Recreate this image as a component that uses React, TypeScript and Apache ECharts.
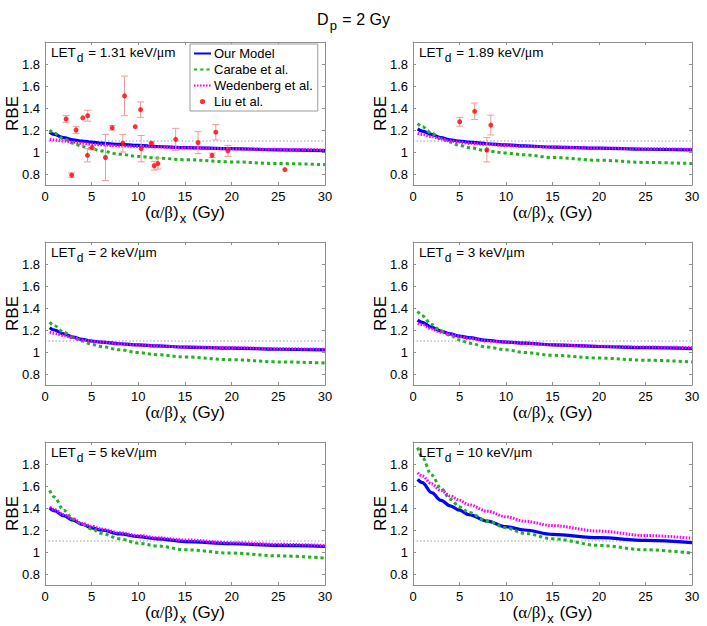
import React, { useEffect, useRef } from 'react';
import * as echarts from 'echarts';

// x positions of the model curves, (alpha/beta)_x in Gy
const abX = [0.5, 1, 2, 3, 4, 5, 6, 8, 10, 12, 15, 20, 25, 30];

const letValues = ['1.31', '1.89', '2', '3', '5', '10'];
const yTickValues = [0.8, 1, 1.2, 1.4, 1.6, 1.8];
const refRBE = 1.1;

// Panel 1: LETd = 1.31
const ourModel1 = [1.18, 1.16, 1.13, 1.11, 1.1, 1.09, 1.08, 1.07, 1.06, 1.05, 1.04, 1.03, 1.02, 1.012];
const carabe1 = [1.2, 1.17, 1.12, 1.08, 1.05, 1.03, 1.01, 0.98, 0.96, 0.945, 0.93, 0.91, 0.895, 0.885];
const wedenberg1 = [1.115, 1.11, 1.1, 1.09, 1.08, 1.07, 1.065, 1.055, 1.05, 1.045, 1.038, 1.03, 1.024, 1.018];
// Panel 2: LETd = 1.89
const ourModel2 = [1.21, 1.19, 1.16, 1.13, 1.11, 1.1, 1.09, 1.075, 1.065, 1.055, 1.045, 1.035, 1.025, 1.02];
const carabe2 = [1.26, 1.23, 1.17, 1.12, 1.09, 1.06, 1.04, 1.01, 0.99, 0.975, 0.95, 0.925, 0.905, 0.895];
const wedenberg2 = [1.17, 1.16, 1.14, 1.12, 1.1, 1.09, 1.08, 1.07, 1.06, 1.05, 1.045, 1.035, 1.03, 1.025];
// Panel 3: LETd = 2
const ourModel3 = [1.22, 1.2, 1.165, 1.135, 1.115, 1.1, 1.09, 1.075, 1.065, 1.055, 1.045, 1.035, 1.025, 1.02];
const carabe3 = [1.27, 1.24, 1.18, 1.13, 1.1, 1.07, 1.05, 1.02, 0.995, 0.975, 0.955, 0.93, 0.91, 0.9];
const wedenberg3 = [1.18, 1.17, 1.15, 1.13, 1.11, 1.1, 1.09, 1.075, 1.065, 1.055, 1.045, 1.04, 1.03, 1.025];
// Panel 4: LETd = 3
const ourModel4 = [1.29, 1.27, 1.225, 1.19, 1.165, 1.145, 1.13, 1.105, 1.09, 1.08, 1.065, 1.05, 1.04, 1.03];
const carabe4 = [1.37, 1.33, 1.25, 1.19, 1.15, 1.11, 1.08, 1.045, 1.02, 0.995, 0.97, 0.945, 0.925, 0.91];
const wedenberg4 = [1.26, 1.25, 1.21, 1.18, 1.16, 1.14, 1.125, 1.1, 1.09, 1.08, 1.065, 1.052, 1.045, 1.04];
// Panel 5: LETd = 5
const ourModel5 = [1.4, 1.375, 1.33, 1.29, 1.25, 1.22, 1.2, 1.165, 1.14, 1.12, 1.095, 1.075, 1.06, 1.05];
const carabe5 = [1.56, 1.5, 1.38, 1.3, 1.25, 1.21, 1.17, 1.12, 1.08, 1.055, 1.02, 0.99, 0.965, 0.945];
const wedenberg5 = [1.41, 1.385, 1.34, 1.3, 1.26, 1.235, 1.21, 1.175, 1.15, 1.13, 1.11, 1.085, 1.07, 1.06];
// Panel 6: LETd = 10
const ourModel6 = [1.66, 1.63, 1.54, 1.47, 1.42, 1.38, 1.34, 1.28, 1.23, 1.2, 1.16, 1.13, 1.105, 1.085];
const carabe6 = [1.95, 1.86, 1.7, 1.58, 1.48, 1.41, 1.36, 1.28, 1.22, 1.17, 1.12, 1.06, 1.02, 0.99];
const wedenberg6 = [1.72, 1.69, 1.62, 1.56, 1.51, 1.47, 1.43, 1.37, 1.32, 1.28, 1.24, 1.19, 1.15, 1.125];

// Liu et al. data: [alpha/beta, RBE, error]
const liu1 = [
  [2.26, 1.3, 0.03], [2.86, 0.79, 0.02], [3.33, 1.2, 0.03], [4.05, 1.31, 0], [4.58, 1.33, 0.05],
  [4.55, 0.97, 0.06], [5.05, 1.04, 0.02], [6.48, 0.95, 0.21], [7.2, 1.22, 0.02], [8.34, 1.08, 0.08],
  [8.52, 1.51, 0.18], [9.67, 1.23, 0], [10.24, 1.385, 0.07], [10.3, 1.03, 0.12], [11.4, 1.08, 0.01],
  [11.7, 0.875, 0.04], [12.1, 0.895, 0.05], [14.0, 1.115, 0.1], [16.4, 1.085, 0.1], [17.9, 0.97, 0.02],
  [18.3, 1.18, 0.07], [19.6, 1.01, 0.05], [25.7, 0.84, 0],
];
const liu2 = [
  [5.02, 1.275, 0.04], [6.63, 1.37, 0.075], [7.94, 1.02, 0.11], [8.37, 1.245, 0.09],
];

const panelOur = [ourModel1, ourModel2, ourModel3, ourModel4, ourModel5, ourModel6];
const panelCarabe = [carabe1, carabe2, carabe3, carabe4, carabe5, carabe6];
const panelWed = [wedenberg1, wedenberg2, wedenberg3, wedenberg4, wedenberg5, wedenberg6];
const panelLiu = [liu1, liu2, null, null, null, null];

const FONT = '"Liberation Sans", Arial, Helvetica, sans-serif';
const SERIF = '"Liberation Serif", "DejaVu Serif", serif';
const FRAME = '#8f8f8f';

const gridLefts = [45, 413];
const gridTops = [42, 242, 442];

const liuIcon =
  'image://data:image/svg+xml;charset=utf-8,' +
  encodeURIComponent(
    "<svg xmlns='http://www.w3.org/2000/svg' width='17' height='13' viewBox='0 0 17 13'><circle cx='8.5' cy='6.5' r='2.6' fill='#ff0000'/></svg>"
  );

function toPairs(ys: number[]) {
  return abX.map((x, i) => [x, ys[i]]);
}

function buildOption() {
  const grid: any[] = [];
  const xAxis: any[] = [];
  const yAxis: any[] = [];
  const series: any[] = [];
  const graphic: any[] = [];

  for (let i = 0; i < 6; i++) {
    const col = i % 2;
    const row = Math.floor(i / 2);
    const left = gridLefts[col];
    const top = gridTops[row];
    grid.push({ left, top, width: col === 0 ? 280 : 279, height: 143, containLabel: false });

    const tickStyle = { inside: true, length: 3, lineStyle: { color: FRAME, width: 1 } };
    xAxis.push({
      type: 'value', gridIndex: i, min: 0, max: 30, interval: 5, position: 'bottom',
      axisLine: { show: true, onZero: false, lineStyle: { color: FRAME, width: 1 } },
      axisTick: tickStyle,
      axisLabel: { color: '#000', fontSize: 13, margin: 5, fontFamily: FONT },
      splitLine: { show: false },
      name: '{a|(}{g|α/β}{a|)}{s|x}{a| (Gy)}',
      nameLocation: 'middle',
      nameGap: 19,
      nameMoveOverlap: false,
      nameTextStyle: {
        color: '#000',
        rich: {
          a: { fontSize: 17, fontFamily: FONT, color: '#000', lineHeight: 17, verticalAlign: 'top' },
          g: { fontSize: 17, fontFamily: SERIF, color: '#000', lineHeight: 17, verticalAlign: 'top' },
          s: { fontSize: 13, fontFamily: FONT, color: '#000', lineHeight: 17, verticalAlign: 'top', padding: [8, 1, 0, 1] },
        },
      },
    });
    xAxis.push({
      type: 'value', gridIndex: i, min: 0, max: 30, interval: 5, position: 'top',
      axisLine: { show: true, onZero: false, lineStyle: { color: FRAME, width: 1 } },
      axisTick: tickStyle,
      axisLabel: { show: false },
      splitLine: { show: false },
    });
    yAxis.push({
      type: 'value', gridIndex: i, min: 0.7, max: 2.0, position: 'left',
      axisLine: { show: true, onZero: false, lineStyle: { color: FRAME, width: 1 } },
      axisTick: { ...tickStyle, customValues: yTickValues },
      axisLabel: { color: '#000', fontSize: 13, margin: 5, fontFamily: FONT, customValues: yTickValues },
      splitLine: { show: false },
      name: 'RBE',
      nameLocation: 'middle',
      nameRotate: 90,
      nameGap: 24,
      nameMoveOverlap: false,
      nameTextStyle: { color: '#000', fontSize: 17, fontFamily: FONT },
    });
    yAxis.push({
      type: 'value', gridIndex: i, min: 0.7, max: 2.0, position: 'right',
      axisLine: { show: true, onZero: false, lineStyle: { color: FRAME, width: 1 } },
      axisTick: { ...tickStyle, customValues: yTickValues },
      axisLabel: { show: false, customValues: yTickValues },
      splitLine: { show: false },
    });

    const xi = 2 * i;
    const yi = 2 * i;
    series.push({
      type: 'line', name: 'ref', xAxisIndex: xi, yAxisIndex: yi, silent: true,
      data: [[0, refRBE], [30, refRBE]], symbol: 'none',
      lineStyle: { color: '#a0a0a0', width: 1, type: [1.5, 2] }, z: 1,
    });
    series.push({
      type: 'line', name: 'Our Model', xAxisIndex: xi, yAxisIndex: yi, data: toPairs(panelOur[i]),
      symbol: 'none', smooth: 0.35, smoothMonotone: 'x',
      lineStyle: { color: '#0000ff', width: 3.2 }, itemStyle: { color: '#0000ff' }, z: 2,
    });
    series.push({
      type: 'line', name: 'Carabe et al.', xAxisIndex: xi, yAxisIndex: yi, data: toPairs(panelCarabe[i]),
      symbol: 'none', smooth: 0.35, smoothMonotone: 'x',
      lineStyle: { color: '#1fb41f', width: 3, type: [3.2, 3] }, itemStyle: { color: '#1fb41f' }, z: 3,
    });
    series.push({
      type: 'line', name: 'Wedenberg et al.', xAxisIndex: xi, yAxisIndex: yi, data: toPairs(panelWed[i]),
      symbol: 'none', smooth: 0.35, smoothMonotone: 'x',
      lineStyle: { color: '#ff00ff', width: 3, type: [1.6, 1.4] }, itemStyle: { color: '#ff00ff' }, z: 4,
    });
    const liu = panelLiu[i];
    if (liu) {
      series.push({
        type: 'custom', name: 'Liu error', xAxisIndex: xi, yAxisIndex: yi, data: liu, z: 5, silent: true,
        renderItem: (params: any, api: any) => {
          const x = api.value(0);
          const y = api.value(1);
          const e = api.value(2);
          if (!e) return { type: 'group', children: [] };
          const t = api.coord([x, y + e]);
          const b = api.coord([x, y - e]);
          const hw = 3.5;
          const style = { stroke: '#f29a9a', lineWidth: 1 };
          return {
            type: 'group',
            children: [
              { type: 'line', shape: { x1: t[0], y1: t[1], x2: b[0], y2: b[1] }, style },
              { type: 'line', shape: { x1: t[0] - hw, y1: t[1], x2: t[0] + hw, y2: t[1] }, style },
              { type: 'line', shape: { x1: b[0] - hw, y1: b[1], x2: b[0] + hw, y2: b[1] }, style },
            ],
          };
        },
      });
      series.push({
        type: 'scatter', name: 'Liu et al.', xAxisIndex: xi, yAxisIndex: yi,
        data: liu.map((d) => [d[0], d[1]]), symbol: 'circle', symbolSize: 5,
        itemStyle: { color: '#ff0000' }, z: 6,
      });
    }

    graphic.push({
      type: 'text', left: left + 6, top: top + 3, z: 10,
      style: {
        text: `{a|LET}{s|d}{a| = ${letValues[i]} keV/}{g|μ}{a|m}`,
        rich: {
          a: { fontSize: 13.5, fontFamily: FONT, fill: '#000', lineHeight: 16, verticalAlign: 'top' },
          g: { fontSize: 14, fontFamily: SERIF, fill: '#000', lineHeight: 16, verticalAlign: 'top' },
          s: { fontSize: 12, fontFamily: FONT, fill: '#000', lineHeight: 16, verticalAlign: 'top', padding: [7, 1, 0, 1] },
        },
      },
    });
  }

  return {
    animation: false,
    backgroundColor: '#ffffff',
    title: {
      text: '{a|D}{s|p}{a| = 2 Gy}',
      left: 'center',
      top: 6,
      textStyle: {
        fontWeight: 'normal',
        rich: {
          a: { fontSize: 16, fontWeight: 'normal', fontFamily: FONT, color: '#000', lineHeight: 18, verticalAlign: 'top' },
          s: { fontSize: 13, fontWeight: 'normal', fontFamily: FONT, color: '#000', lineHeight: 18, verticalAlign: 'top', padding: [8, 1, 0, 1] },
        },
      },
    },
    legend: {
      orient: 'vertical',
      left: 190,
      top: 44,
      padding: [3, 5, 3, 3],
      itemGap: 3,
      itemWidth: 17,
      itemHeight: 13,
      backgroundColor: '#ffffff',
      borderColor: '#9a9a9a',
      borderWidth: 1,
      borderRadius: 0,
      textStyle: { color: '#000', fontSize: 13, fontFamily: FONT, padding: [0, 0, 0, -2] },
      data: [
        { name: 'Our Model', itemStyle: { opacity: 0 } },
        { name: 'Carabe et al.', itemStyle: { opacity: 0 } },
        { name: 'Wedenberg et al.', itemStyle: { opacity: 0 } },
        { name: 'Liu et al.', icon: liuIcon },
      ],
      selectedMode: false,
      z: 20,
    },
    grid,
    xAxis,
    yAxis,
    series,
    graphic,
  };
}

export default function App() {
  const ref = useRef<HTMLDivElement>(null);
  useEffect(() => {
    if (!ref.current) return;
    const chart = echarts.init(ref.current, null, { renderer: 'svg' });
    chart.setOption(buildOption() as any);
    return () => chart.dispose();
  }, []);
  return (
    <div
      ref={ref}
      style={{ position: 'fixed', left: 0, top: 0, width: 707, height: 626, background: '#fff' }}
    />
  );
}
